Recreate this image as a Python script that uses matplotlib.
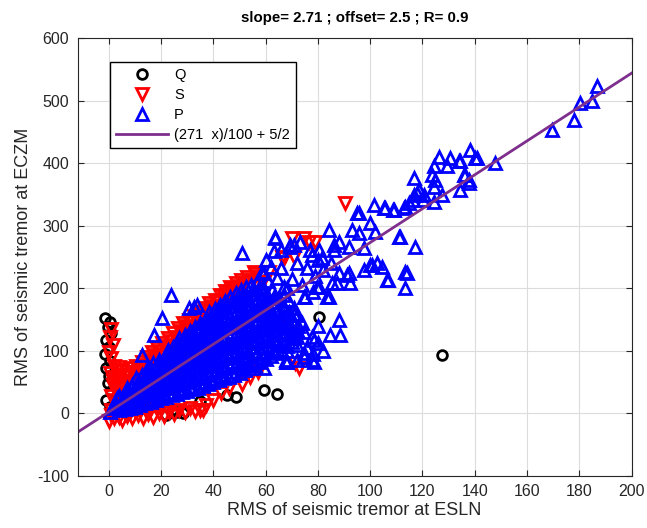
import matplotlib
matplotlib.use('Agg')
import matplotlib.pyplot as plt

plt.rcParams['font.family'] = ['Liberation Sans', 'DejaVu Sans']
plt.rcParams['axes.unicode_minus'] = False

# fit
slope = 2.71
offset = 2.5
fit_label = '(271  x)/100 + 5/2'
title_txt = 'slope= 2.71 ; offset= 2.5 ; R= 0.9'

# Q points (black circles)
q_x = [-1.5, 0.5, -0.5, 1.0, -1.0, 0.0, -1.5, 0.5, -1.0, 0.0, -0.5, 1.0, -1.0, 0.5,
       24.0, 26.0, 28.5, 22.0, 35.0, 45.3, 48.5, 59.3, 64.5, 80.3, 127.5]
q_y = [152, 146, 138, 128, 118, 106, 95, 84, 72, 60, 48, 36, 22, 10,
       5, 2, 0, -2, 20, 29, 27, 38, 31, 155, 93]

# S points (red, downward triangles)
s_pts = [
    (3, 48), (3.5, 62), (4, 74), (6, 52), (6.5, 66), (8, 58), (8.5, 72), (10, 64), (10.5, 76),
    (12, 70), (12.5, 82), (14, 78), (14.5, 90), (16, 86), (16.5, 98), (18, 93), (18.5, 105),
    (20, 100), (20.5, 112), (22, 108), (22.5, 120), (24, 116), (24.5, 128), (26, 123),
    (26.5, 136), (28, 132), (28.5, 144), (30, 140), (30.5, 150), (32, 146), (32.5, 156),
    (34, 152), (34.5, 162), (36, 158), (36.5, 168), (38, 166), (38.5, 176), (40, 172),
    (40.5, 182), (42, 180), (42.5, 190), (44, 186), (44.5, 196), (46, 193), (46.5, 202),
    (48, 199), (48.5, 208), (50, 204), (50.5, 213), (52, 209), (53, 218), (55, 214),
    (56, 223), (58, 218),
    (1, 135), (0.5, 122), (1.5, 110), (0, 98), (1, 88), (2, 76), (0.5, 64), (1.5, 52),
    (2, 40), (1, 28), (2.5, 16), (1, 5), (3.5, 30), (4.5, 40), (2, 22), (3, 36), (5, 46),
    (4, 58), (6, 60), (7, 50), (1.5, 45), (2.5, 58), (3, 70), (5, 70), (7, 62), (9, 66),
    (0, -12), (2, -8), (4, -5), (5, -10), (7, -4), (9, -8), (11, -3), (13, -7), (15, -1),
    (17, -6), (19, 1), (21, -4), (23, 3), (25, -1), (27, 5), (29, 2), (31, 8), (33, 4),
    (35, 6), (37, 14), (40, 22), (43, 32), (46, 40), (50.8, 47.6), (54, 58), (57, 66),
    (1, -3), (3, 0), (6, 0), (8, 2), (10, 4), (12, 5), (14, 7), (16, 9), (18, 10), (20, 12),
    (90.5, 336), (70, 280), (76.5, 274), (66.3, 251), (67, 248), (55.4, 227), (58.7, 208),
    (65, 147), (61.3, 227), (56.4, 211), (74.8, 280), (79, 275), (71, 251), (66.3, 144),
    (72.7, 72), (71.4, 80.6), (36, 5), (46.5, 181),
]

# P points (blue, upward triangles): dense cloud
p_cloud = [
    (0.5, 3), (2, 8), (2.5, 18), (4, 5), (4.5, 16), (4, 28), (6, 7), (6.5, 19), (6, 31), (7, 41),
    (8, 9), (8.5, 21), (8, 33), (9, 45), (10, 11), (10.5, 23), (10, 35), (11, 47), (10.5, 57),
    (12, 14), (12.5, 26), (12, 38), (13, 50), (12.5, 61), (14, 16), (14.5, 29), (14, 41),
    (15, 53), (14.5, 65), (15, 74),
    (16, 19), (16.5, 31), (16, 44), (17, 56), (16.5, 68), (17, 80),
    (18, 21), (18.5, 34), (18, 47), (19, 59), (18.5, 72), (19, 85),
    (20, 24), (20.5, 37), (20, 50), (21, 63), (20.5, 76), (21, 89),
    (22, 26), (22.5, 40), (22, 53), (23, 66), (22.5, 79), (23, 92), (22.5, 101),
    (24, 29), (24.5, 42), (24, 56), (25, 69), (24.5, 82), (25, 95), (24.5, 107),
    (26, 31), (26.5, 45), (26, 59), (27, 72), (26.5, 86), (27, 99), (26.5, 112),
    (28, 34), (28.5, 48), (28, 62), (29, 76), (28.5, 90), (29, 104), (28.5, 117), (29, 126),
    (30, 36), (30.5, 50), (30, 64), (31, 79), (30.5, 93), (31, 107), (30.5, 121), (31, 132),
    (32, 39), (32.5, 53), (32, 68), (33, 82), (32.5, 97), (33, 111), (32.5, 125), (33, 138),
    (34, 41), (34.5, 56), (34, 71), (35, 86), (34.5, 101), (35, 116), (34.5, 130), (35, 144),
    (36, 44), (36.5, 59), (36, 74), (37, 89), (36.5, 104), (37, 119), (36.5, 134), (37, 149),
    (38, 47), (38.5, 62), (38, 77), (39, 92), (38.5, 107), (39, 122), (38.5, 138), (39, 153), (38.5, 162),
    (40, 50), (40.5, 65), (40, 80), (41, 96), (40.5, 111), (41, 127), (40.5, 142), (41, 157), (40.5, 167),
    (42, 53), (42.5, 68), (42, 84), (43, 100), (42.5, 116), (43, 132), (42.5, 148), (43, 163), (42.5, 174),
    (44, 56), (44.5, 72), (44, 88), (45, 104), (44.5, 120), (45, 136), (44.5, 152), (45, 168), (44.5, 180),
    (46, 59), (46.5, 75), (46, 91), (47, 107), (46.5, 123), (47, 139), (46.5, 155), (47, 172), (46.5, 186),
    (48, 62), (48.5, 78), (48, 94), (49, 110), (48.5, 127), (49, 143), (48.5, 160), (49, 177), (48.5, 192),
    (50, 65), (50.5, 82), (50, 98), (51, 115), (50.5, 132), (51, 148), (50.5, 165), (51, 182), (50.5, 197),
    (52, 69), (52.5, 86), (52, 102), (53, 119), (52.5, 136), (53, 153), (52.5, 170), (53, 187), (52.5, 202),
    (54, 73), (54.5, 90), (54, 107), (55, 124), (54.5, 141), (55, 158), (54.5, 175), (55, 192), (54.5, 206),
    (56, 78), (56.5, 95), (56, 112), (57, 129), (56.5, 146), (57, 163), (56.5, 180), (57, 198), (56.5, 210),
    (58, 82), (58.5, 99), (58, 116), (59, 133), (58.5, 150), (59, 167), (58.5, 184), (59, 202),
    (60, 87), (60.5, 104), (60, 121), (61, 138), (60.5, 155), (61, 172), (60.5, 190), (61, 212),
    (62, 92), (62.5, 109), (62, 126), (63, 143), (62.5, 160), (63, 178), (62.5, 197),
    (64, 97), (64.5, 114), (64, 131), (65, 148), (64.5, 166), (65, 184), (64.5, 216),
    (66, 102), (66.5, 120), (66, 138), (67, 156), (66.5, 174), (67, 202),
    (68, 108), (68.5, 126), (68, 144), (69, 162), (68.5, 182),
    (70, 114), (70.5, 132), (70, 150), (71, 168),
    (72, 122), (72.5, 140), (72, 158),
]

# P points: in-between rows of the cloud
p_fill = [
    (3, 12), (3, 24), (7, 14), (7, 26), (7, 36), (11, 17), (11, 29), (11, 41), (11, 52),
    (15, 22), (15, 35), (15, 47), (15, 59), (15, 70), (19, 28), (19, 41), (19, 53), (19, 66), (19, 79),
    (23, 33), (23, 46), (23, 59), (23, 72), (23, 86), (23, 97),
    (27, 38), (27, 52), (27, 65), (27, 79), (27, 93), (27, 106), (27, 120),
    (31, 43), (31, 57), (31, 72), (31, 86), (31, 100), (31, 114), (31, 127),
    (35, 48), (35, 63), (35, 78), (35, 93), (35, 108), (35, 123), (35, 137),
    (39, 54), (39, 69), (39, 85), (39, 100), (39, 115), (39, 130), (39, 146), (39, 158),
    (43, 60), (43, 76), (43, 92), (43, 108), (43, 124), (43, 140), (43, 156), (43, 170),
    (47, 67), (47, 83), (47, 99), (47, 115), (47, 131), (47, 147), (47, 164), (47, 180),
    (51, 73), (51, 90), (51, 106), (51, 123), (51, 140), (51, 156), (51, 173), (51, 190),
    (55, 81), (55, 98), (55, 115), (55, 132), (55, 149), (55, 166), (55, 183), (55, 200),
    (59, 90), (59, 107), (59, 124), (59, 141), (59, 158), (59, 175), (59, 192),
    (63, 100), (63, 117), (63, 134), (63, 151), (63, 169), (63, 187),
    (67, 111), (67, 129), (67, 147), (67, 165), (67, 190), (71, 123), (71, 141), (71, 159),
]

# P points: scattered ones
p_out = [
    (23.6, 189.6), (33.8, 173.6), (30.6, 168.3), (20.4, 152.2), (17.2, 125.5), (12.8, 93.4),
    (51, 256.4), (58.7, 227), (63.7, 283), (65.7, 232.4), (32.5, 170.8), (75.2, 186.9),
    (66.3, 141.5), (72, 133.5), (68.2, 82.7), (59.3, 72), (53.5, 77.4), (72, 85.4),
    (69.5, 269.7), (50.4, 80),
    (95.6, 320.5), (101.3, 333.8), (105.2, 328.5), (108.9, 325.8), (113.5, 331), (116.5, 341.8),
    (117.9, 353), (120.3, 341.8), (84.1, 293.8), (93.1, 293.8), (95.6, 288.5), (100.1, 304.5),
    (102, 291), (97.5, 264.4), (91.8, 267), (88, 275), (86, 261.7), (110.9, 283), (117.3, 267),
    (80.3, 261.7), (77.8, 253.7), (81.6, 248.4), (73.3, 275), (97.5, 229.6), (100, 237.7),
    (102.6, 240.4), (104.5, 235), (106.5, 213.6), (113.5, 227), (113.5, 200.3), (91.2, 221.6),
    (92.4, 208.3), (87.3, 208.3), (84.1, 186.9), (80.3, 202.9), (88, 149.5),
    (84.8, 125.5), (88.6, 125.5), (78.4, 117.5), (74.6, 130.8), (70.7, 128.2), (77.8, 85.4),
    (74.6, 90.7), (67.6, 82.7), (70.7, 269.7),
    (126.2, 411), (130.7, 408.7), (134.5, 403.2), (138.3, 422), (140.9, 408.7), (147.9, 400.6),
    (124.3, 395.2), (129.4, 395.2), (123.7, 381.9), (116.6, 376.6), (135.8, 381.9), (137.7, 373.9),
    (124.3, 363.1), (118.5, 357.9), (134.5, 357.9), (116.6, 349.8), (120.5, 349.8), (127.5, 349.8),
    (124.3, 339.1), (114.7, 336.5), (112.8, 328.5), (105.8, 328.5), (109, 325.8), (111.5, 283),
    (114.1, 224.4), (107, 213.6),
    (186.8, 523.4), (184.9, 499.4), (180.4, 496.8), (177.8, 470), (169.6, 454), (140.2, 408.7),
    (133.8, 403.2), (136.4, 381.9), (137.7, 368.6), (124.9, 373.9),
    (95, 320.5), (100.7, 237.7), (74.6, 186.9), (83.5, 186.9), (63.7, 280.4), (59.3, 224.4),
    (69.5, 267), (91.8, 224.4), (85.4, 208.3), (79.7, 202.9),
    (60, 245), (63, 260), (66, 262), (72, 240), (76, 232), (79, 220), (82, 230), (70, 215),
    (74, 205), (78, 195), (68, 200), (62, 235), (85, 240), (88, 225), (80, 245), (86, 270),
    (77, 262), (68, 100), (72, 110), (76, 105), (80, 112), (70, 120), (78, 95), (82, 100),
    (74, 145), (69, 138), (80, 140), (77.8, 122.8), (78.4, 82.7), (74.6, 96), (67.6, 85.4),
]

s_x = [p[0] for p in s_pts]
s_y = [p[1] for p in s_pts]
p_all = p_cloud + p_fill + p_out
p_x = [p[0] for p in p_all]
p_y = [p[1] for p in p_all]

fig = plt.figure(figsize=(6.47, 5.28), dpi=100)
ax = fig.add_axes([0.1198, 0.0985, 0.8563, 0.8286])

ax.plot(q_x, q_y, 'o', color='k', mfc='none', ms=7, mew=2.0, label='Q')
ax.plot(s_x, s_y, 'v', color='r', mfc='none', ms=9, mew=2.0, label='S')
ax.plot(p_x, p_y, '^', color='b', mfc='none', ms=9, mew=2.0, label='P')

xl = (-12, 200)
ax.plot(xl, [slope * v + offset for v in xl], '-', color='#7E2F8E', lw=2, label=fit_label)

ax.set_xlim(xl)
ax.set_ylim(-100, 600)
ax.set_xticks(range(0, 201, 20))
ax.set_yticks(range(-100, 601, 100))
ax.grid(True, color='#dcdcdc', lw=0.8)
ax.set_axisbelow(True)
ax.tick_params(direction='in', top=True, right=True, length=4, labelsize=11.5,
               colors='#262626', pad=6)
for sp in ax.spines.values():
    sp.set_color('#262626')

ax.set_title(title_txt, fontsize=10.8, fontweight='bold', pad=12)
ax.set_xlabel('RMS of seismic tremor at ESLN', fontsize=13, color='#262626', labelpad=2)
ax.set_ylabel('RMS of seismic tremor at ECZM', fontsize=13, color='#262626', labelpad=4)

leg = ax.legend(loc='upper left', bbox_to_anchor=(0.0587, 0.9456), borderaxespad=0,
                fontsize=10.5, handlelength=3.6, handletextpad=0.4, fancybox=False,
                edgecolor='k', framealpha=1, borderpad=0.4, labelspacing=0.42)
leg.get_frame().set_linewidth(1.0)

fig.savefig('out.png', dpi=100)
